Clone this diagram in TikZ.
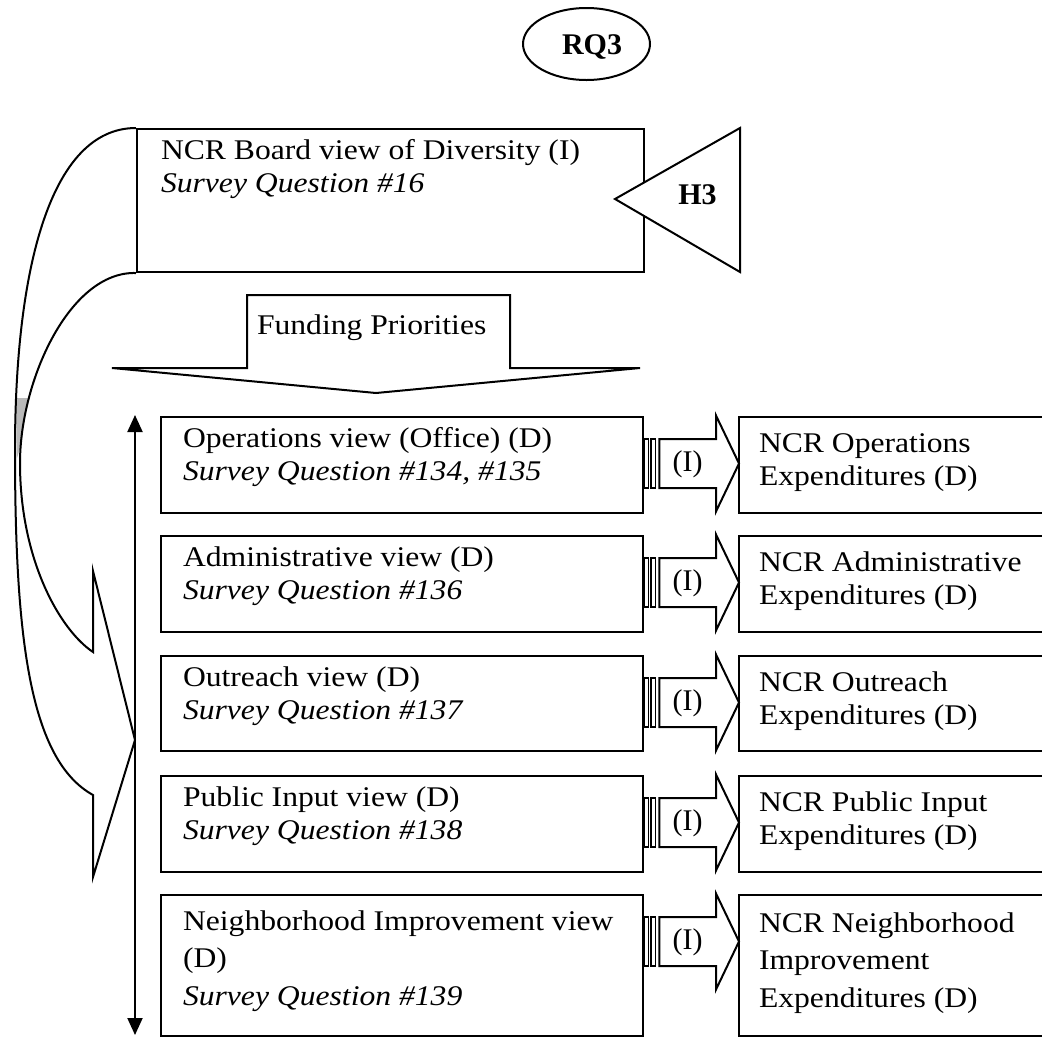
\documentclass[tikz,border=0pt]{standalone}
\usepackage{fontspec}
\setmainfont{Liberation Serif}[FakeStretch=1.11]
\newfontfamily\plainserif{Liberation Serif}
\usetikzlibrary{arrows.meta,shapes.geometric,calc}

\begin{document}
\begin{tikzpicture}[x=1pt,y=-1pt,line width=2pt,
  every node/.style={inner sep=0pt},
  box/.style={draw, anchor=north west, minimum height=96pt},
  lbox/.style={box, minimum width=482pt},
  rbox/.style={box, minimum width=330pt},
  % multi-line text nodes are placed by the baseline of their last line
  txt/.style={anchor=base west, align=left, font=\fontsize{28.5}{33}\selectfont},
  txtw/.style={anchor=base west, align=left, font=\fontsize{28.5}{37.5}\selectfont},
  bold/.style={anchor=base, font=\plainserif\bfseries\fontsize{30}{36}\selectfont},
  tag/.style={font=\plainserif\fontsize{30}{34}\selectfont},
  dtip/.style={{Triangle[length=17pt,width=15pt]}-{Triangle[length=17pt,width=15pt]}},
  striped/.pic={
    \draw[fill=white, line width=1.3pt] (0.5,-24.5) rectangle (4.5,24.5);
    \draw[fill=white, line width=1.3pt] (7,-24.5) rectangle (11.3,24.5);
    \draw[fill=white] (15.3,-24.5) -- (72,-24.5) -- (72,-48) -- (95,0)
      -- (72,48) -- (72,24.5) -- (15.3,24.5) -- cycle;
    \node[tag] (-lbl) at (43.5,1) {(I)};
  }
]
\useasboundingbox (0,0) rectangle (1042,1037);
\clip (0,0) rectangle (1042,1037);

% research question
\node[draw, ellipse, minimum width=127pt, minimum height=72pt] (rq) at (586.5,44) {};
\node[bold] (rqtx) at (592,54) {RQ3};

% board view
\node[box, minimum width=507pt, minimum height=143pt] (board) at (136,128) {};
\node[txt] (boardtx) at (160,192) {NCR Board view of Diversity (I)\\\textit{Survey Question \#16}};

% hypothesis marker
\draw[fill=white] (615,199) -- (740,128) -- (740,272) -- cycle;
\node[bold] (h3) at (697.5,204) {H3};

% funding priorities block arrow
\draw[fill=white] (112,368) -- (247,368) -- (247,295) -- (510,295) -- (510,368)
  -- (640,368) -- (376,393) -- cycle;
\node[txt] (fund) at (256,334) {Funding Priorities};

% curved arrow from the board view down to the views
\fill[gray!55] (16,398) -- (29,398) -- (25,415) -- (21,445) -- (17,458) -- cycle;
\draw (board.north west) .. controls (50,128) and (15,270) .. (15,450)
  .. controls (15,640) and (30,760) .. (93,795) -- (93,877) -- (135,740)
  -- (93,571) -- (93,652) .. controls (60,630) and (20,560) .. (20,463)
  .. controls (20,380) and (70,271) .. (board.south west);

% views
\node[lbox] (op) at (160,416) {};
\node[lbox] (ad) at (160,535) {};
\node[lbox, minimum height=95pt] (ou) at (160,655) {};
\node[lbox] (pu) at (160,775) {};
\node[lbox, minimum height=141pt] (ne) at (160,894) {};

\node[txt] (optx) at (182,480) {Operations view (Office) (D)\\\textit{Survey Question \#134, \#135}};
\node[txt] (adtx) at (182,599) {Administrative view (D)\\\textit{Survey Question \#136}};
\node[txt] (outx) at (182,719) {Outreach view (D)\\\textit{Survey Question \#137}};
\node[txt] (putx) at (182,839) {Public Input view (D)\\\textit{Survey Question \#138}};
\node[txtw] (netx) at (182,1005) {Neighborhood Improvement view\\(D)\\\textit{Survey Question \#139}};

% expenditures
\node[rbox] (rop) at (738,416) {};
\node[rbox] (rad) at (738,535) {};
\node[rbox, minimum height=95pt] (rou) at (738,655) {};
\node[rbox] (rpu) at (738,775) {};
\node[rbox, minimum height=141pt] (rne) at (738,894) {};

\node[txt] (roptx) at (758,485) {NCR Operations\\Expenditures (D)};
\node[txt] (radtx) at (758,604) {NCR Administrative\\Expenditures (D)};
\node[txt] (routx) at (758,724) {NCR Outreach\\Expenditures (D)};
\node[txt] (rputx) at (758,844) {NCR Public Input\\Expenditures (D)};
\node[txtw] (rnetx) at (758,1007) {NCR Neighborhood\\Improvement\\Expenditures (D)};

% striped arrows between views and expenditures
\pic (sa1) at ($(op.north east)+(0,47.5)$) {striped};
\pic (sa2) at ($(ad.north east)+(0,47.5)$) {striped};
\pic (sa3) at ($(ou.north east)+(0,47.5)$) {striped};
\pic (sa4) at ($(pu.north east)+(0,47.5)$) {striped};
\pic (sa5) at ($(ne.north east)+(0,47.5)$) {striped};

% two-headed arrow alongside the views
\coordinate (vtop) at (135,415);
\coordinate (vbot) at (135,1035);
\draw[dtip] (vtop) -- (vbot);
\end{tikzpicture}
\end{document}
